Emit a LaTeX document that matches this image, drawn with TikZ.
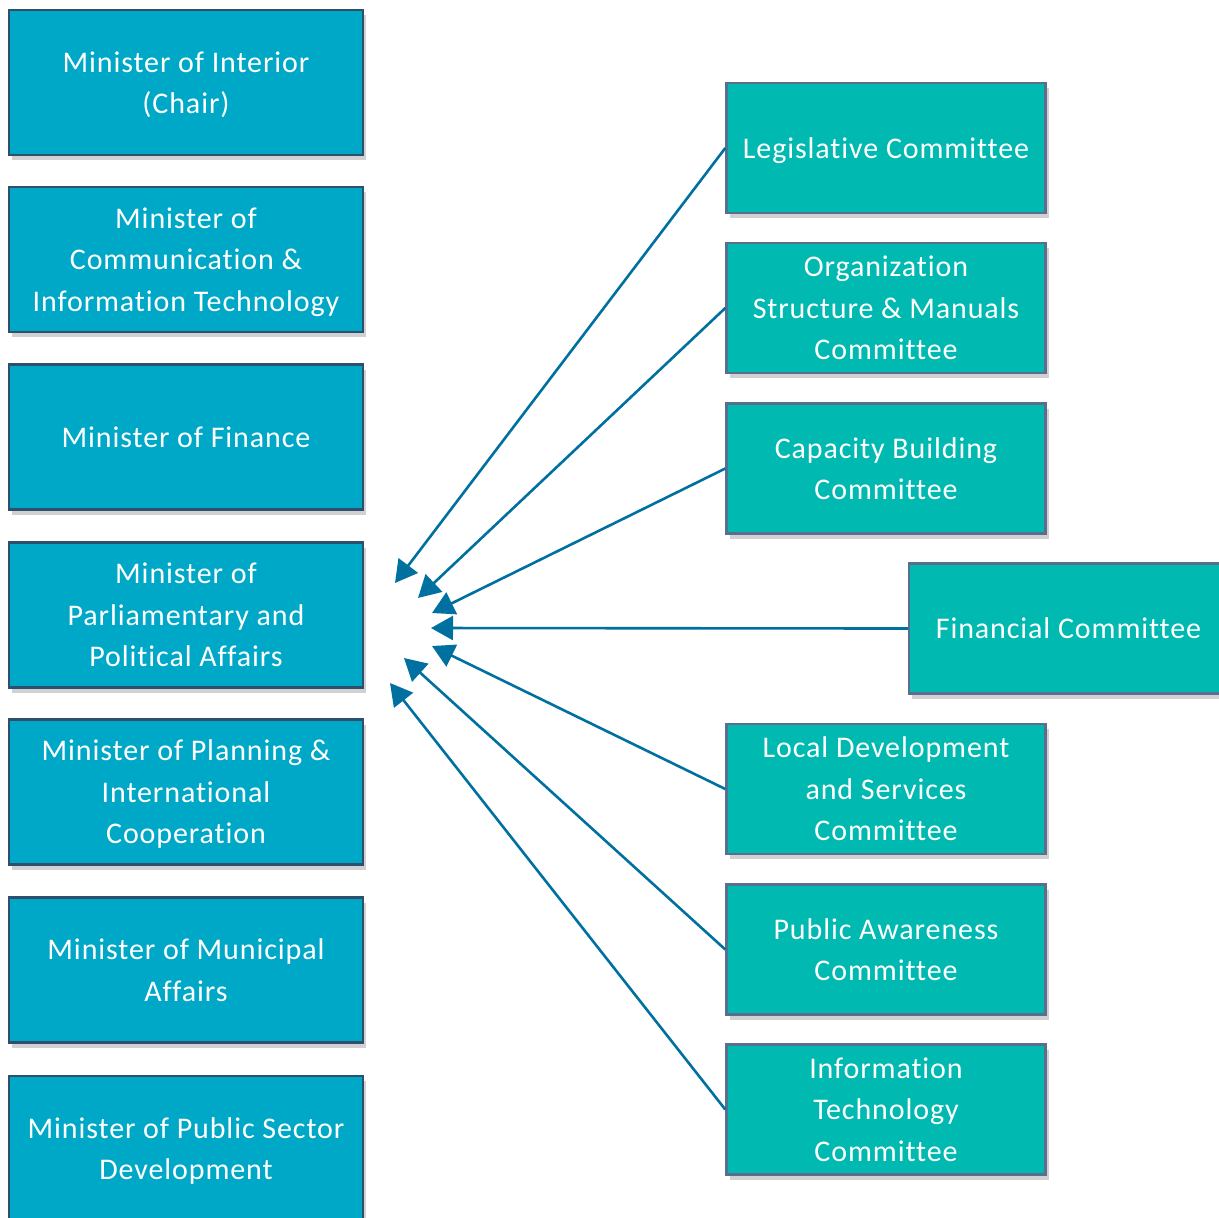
\documentclass[tikz,border=0pt]{standalone}
\usepackage{fontspec}
\setmainfont{Carlito}[Ligatures=NoCommon,LetterSpace=3]
\usetikzlibrary{arrows.meta,shadows}
\definecolor{minfill}{RGB}{0,168,200}
\definecolor{minborder}{RGB}{46,79,110}
\definecolor{comfill}{RGB}{0,185,176}
\definecolor{comborder}{RGB}{90,110,144}
\definecolor{arrowblue}{RGB}{0,112,160}
\tikzset{
  basebox/.style={rectangle, draw, line width=1.2pt, text=white, align=center,
    font=\fontsize{15}{20.75}\selectfont, text depth=0pt,
    drop shadow={shadow xshift=1.5pt, shadow yshift=-2.5pt, opacity=0.18, fill=black}},
  minbox/.style={basebox, fill=minfill, draw=minborder, minimum width=177pt, minimum height=72.5pt},
  combox/.style={basebox, fill=comfill, draw=comborder, minimum width=159.5pt, minimum height=65pt},
  link/.style={draw=arrowblue, line width=1.3pt, -{Triangle[length=11pt,width=12pt]}, arrowblue}
}
\begin{document}
\begin{tikzpicture}[x=0.5pt,y=-0.5pt]
\useasboundingbox (0,0) rectangle (1219,1217);
\clip (0,0) rectangle (1219,1217);
% ministers
\node[minbox] (m1) at (186,82.5) {Minister of Interior\\(Chair)};
\node[minbox] (m2) at (186,259.5) {Minister of\\Communication \&\\Information Technology};
\node[minbox] (m3) at (186,437) {Minister of Finance};
\node[minbox] (m4) at (186,615) {Minister of\\Parliamentary and\\Political Affairs};
\node[minbox] (m5) at (186,792) {Minister of Planning \&\\International\\Cooperation};
\node[minbox] (m6) at (186,970) {Minister of Municipal\\Affairs};
\node[minbox] (m7) at (186,1148.5) {Minister of Public Sector\\Development};
% committees
\node[combox] (c1) at (886,148) {Legislative Committee};
\node[combox] (c2) at (886,308) {Organization\\Structure \& Manuals\\Committee};
\node[combox] (c3) at (886,468.5) {Capacity Building\\Committee};
\node[combox] (c4) at (1068.5,628.5) {Financial Committee};
\node[combox] (c5) at (886,789) {Local Development\\and Services\\Committee};
\node[combox] (c6) at (886,949.5) {Public Awareness\\Committee};
\node[combox] (c7) at (886,1109.5) {Information\\Technology\\Committee};
% arrow tips
\coordinate (t1) at (395,583);
\coordinate (t2) at (418,598);
\coordinate (t3) at (432,613);
\coordinate (t4) at (431,628);
\coordinate (t5) at (432,646);
\coordinate (t6) at (404,658);
\coordinate (t7) at (390,683);
\draw[link] (c1.west) -- (t1);
\draw[link] (c2.west) -- (t2);
\draw[link] (c3.west) -- (t3);
\draw[link] (c4.west) -- (t4);
\draw[link] (c5.west) -- (t5);
\draw[link] (c6.west) -- (t6);
\draw[link] (c7.west) -- (t7);
\end{tikzpicture}
\end{document}
